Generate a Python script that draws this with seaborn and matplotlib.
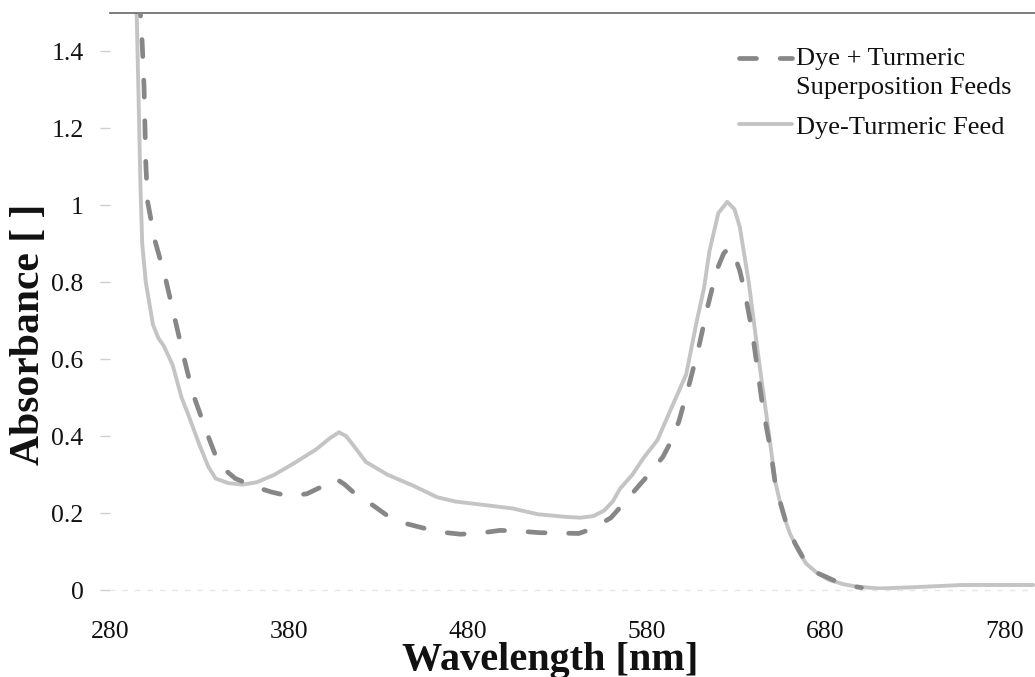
import matplotlib
matplotlib.use("Agg")
import matplotlib.pyplot as plt
from matplotlib.legend_handler import HandlerLine2D
import seaborn as sns
import pandas as pd

# Dye + Turmeric Superposition Feeds (dashed)
wl_super = [296, 297, 298, 299, 299.5, 300, 301, 305, 311, 316, 321, 326, 334, 341, 350,
            360, 370, 380, 390, 399, 406, 411, 417, 427, 436, 446, 456, 466, 476, 487,
            498, 509, 520, 531, 542, 550, 560, 568, 575, 582, 589, 594, 598, 604, 609,
            614, 619, 623, 626, 629, 632, 635, 639, 642, 645, 649, 652, 658, 663, 667,
            675, 686, 695, 700]
abs_super = [1.60, 1.50, 1.42, 1.31, 1.21, 1.11, 1.01, 0.91, 0.81, 0.71, 0.61, 0.515, 0.41, 0.325, 0.29,
             0.27, 0.255, 0.244, 0.25, 0.27, 0.29, 0.275, 0.25, 0.22, 0.19, 0.172, 0.16, 0.15, 0.145, 0.148,
             0.155, 0.153, 0.149, 0.148, 0.147, 0.16, 0.188, 0.23, 0.268, 0.305, 0.346, 0.39, 0.439, 0.54, 0.63,
             0.736, 0.83, 0.875, 0.89, 0.87, 0.83, 0.77, 0.67, 0.57, 0.47, 0.37, 0.27, 0.173, 0.12, 0.087,
             0.045, 0.022, 0.01, 0.006]

# Dye-Turmeric Feed (solid)
wl_feed = [294, 295, 296, 297, 298, 300, 304, 307, 310, 315, 320, 323, 330, 335, 339,
           346, 354, 362, 372, 383, 395, 403, 408, 412, 417, 423, 435, 450, 463, 473,
           491, 505, 519, 535, 543, 550, 556, 561, 565, 572, 578, 586, 593, 602, 605,
           608, 612, 615, 620, 625, 629, 632, 637, 642, 647, 652, 656, 660, 665, 669,
           675, 682, 690, 697, 710, 728, 742, 756, 775, 796]
abs_feed = [1.62, 1.48, 1.27, 1.05, 0.90, 0.80, 0.69, 0.655, 0.635, 0.585, 0.50, 0.465, 0.377, 0.32, 0.29,
            0.278, 0.274, 0.28, 0.30, 0.33, 0.365, 0.395, 0.41, 0.40, 0.37, 0.333, 0.30, 0.27, 0.241, 0.23,
            0.22, 0.212, 0.197, 0.19, 0.188, 0.192, 0.206, 0.23, 0.263, 0.30, 0.342, 0.39, 0.465, 0.56, 0.63,
            0.70, 0.785, 0.88, 0.98, 1.009, 0.99, 0.944, 0.80, 0.62, 0.45, 0.277, 0.20, 0.147, 0.10, 0.069,
            0.045, 0.026, 0.015, 0.009, 0.004, 0.007, 0.010, 0.013, 0.013, 0.013]

x_ticks = [280, 380, 480, 580, 680, 780]
y_ticks = [0, 0.2, 0.4, 0.6, 0.8, 1.0, 1.2, 1.4]
y_tick_labels = ["0", "0.2", "0.4", "0.6", "0.8", "1", "1.2", "1.4"]

label_super = "Dye + Turmeric\nSuperposition Feeds"
label_feed = "Dye-Turmeric Feed"


class ShiftedHandler(HandlerLine2D):
    def __init__(self, shift=0.0, **kw):
        super().__init__(**kw)
        self.shift = shift

    def create_artists(self, legend, orig_handle, xdescent, ydescent, width, height,
                       fontsize, trans):
        return super().create_artists(legend, orig_handle, xdescent,
                                      ydescent - 2 * self.shift, width, height,
                                      fontsize, trans)


sns.set_theme(style="white")
plt.rcParams["font.family"] = ["Liberation Serif", "DejaVu Serif"]

fig = plt.figure(figsize=(10.35, 6.77), dpi=100)
ax = fig.add_axes([0.1063, 0.1285, 0.8937, 0.8523])

df_super = pd.DataFrame({"wl": wl_super, "a": abs_super})
df_feed = pd.DataFrame({"wl": wl_feed, "a": abs_feed})

sns.lineplot(data=df_super, x="wl", y="a", ax=ax, sort=False, color="#878787",
             linewidth=3.4, linestyle=(0, (3.6, 5.0)), label=label_super,
             dash_capstyle="round", zorder=3)
sns.lineplot(data=df_feed, x="wl", y="a", ax=ax, sort=False, color="#c4c4c4",
             linewidth=2.8, label=label_feed, zorder=2)

ax.set_xlim(280, 797)
ax.set_ylim(0, 1.5)
ax.set_xticks(x_ticks)
ax.set_xticklabels([str(v) for v in x_ticks])
ax.set_yticks(y_ticks)
ax.set_yticklabels(y_tick_labels)

ax.tick_params(axis="x", length=0, pad=22, labelsize=18.5, colors="#111111")
ax.tick_params(axis="y", length=7, width=1, color="#cfcfcf", direction="out",
               pad=12, labelsize=18.5, labelcolor="#111111", left=True)

for s in ["left", "right"]:
    ax.spines[s].set_visible(False)
ax.spines["top"].set_visible(True)
ax.spines["top"].set_color("#666666")
ax.spines["top"].set_linewidth(1.2)
ax.spines["bottom"].set_visible(True)
ax.spines["bottom"].set_color("#e6e6e6")
ax.spines["bottom"].set_linewidth(1.0)
ax.spines["bottom"].set_linestyle((0, (3, 6)))

ax.set_xlabel("Wavelength [nm]", fontsize=29, fontweight="bold", color="#111111")
ax.set_ylabel("Absorbance [ ]", fontsize=30, fontweight="bold", color="#111111")
ax.xaxis.set_label_coords(0.476, -0.090)
ax.yaxis.set_label_coords(-0.067, 0.444)

handles, labels = ax.get_legend_handles_labels()
leg = ax.legend(handles, labels, loc="upper left", bbox_to_anchor=(0.666, 0.963),
                frameon=False, fontsize=19, handlelength=2.0, handletextpad=0.15,
                borderpad=0, labelspacing=0.62,
                handler_map={handles[0]: ShiftedHandler(shift=10.5)})
for t in leg.get_texts():
    t.set_color("#111111")
    t.set_linespacing(1.43)

fig.savefig("out.png", dpi=100)
